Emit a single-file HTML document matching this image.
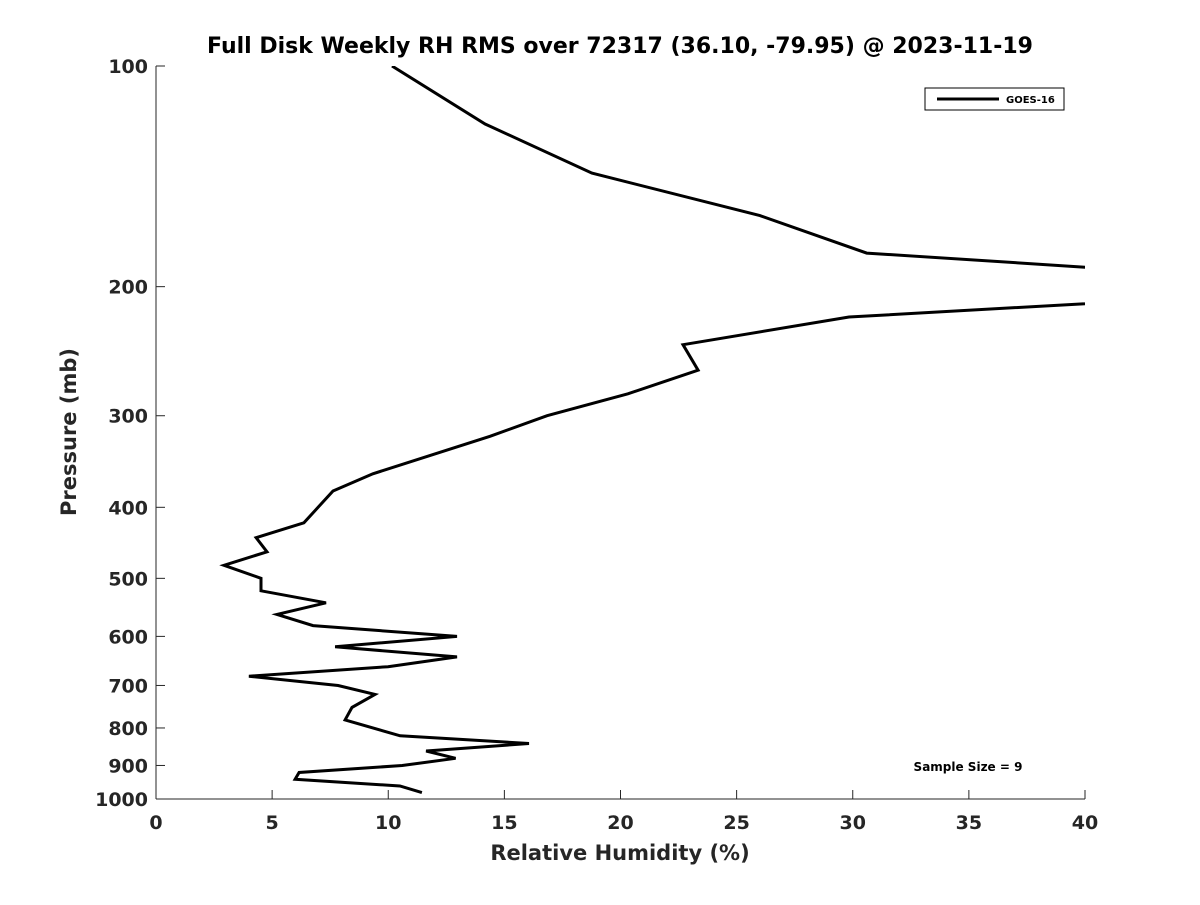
<!DOCTYPE html>
<html><head><meta charset="utf-8"><style>
body{margin:0;background:#fff;}
svg text{font-family:"DejaVu Sans","Liberation Sans",sans-serif;font-weight:bold;fill:#262626;}
</style></head><body>
<svg id="chart" width="1200" height="900" xmlns="http://www.w3.org/2000/svg">
<rect width="1200" height="900" fill="#fff"/>
<defs><clipPath id="clip"><rect x="156" y="66" width="929" height="733"/></clipPath></defs>
<text x="620" y="53" font-size="22" text-anchor="middle" style="fill:#000">Full Disk Weekly RH RMS over 72317 (36.10, -79.95) @ 2023-11-19</text>
<g id="axes"></g>
<path id="series" fill="none" stroke="#000" stroke-width="3" clip-path="url(#clip)" stroke-linejoin="miter"/>
<g>
<rect x="925" y="88" width="139" height="22" fill="#fff" stroke="#000" stroke-width="1"/>
<line x1="937" y1="99" x2="999" y2="99" stroke="#000" stroke-width="3"/>
<text x="1006" y="103" font-size="10" style="fill:#000">GOES-16</text>
</g>
<text x="968" y="771" font-size="12" text-anchor="middle" style="fill:#000">Sample Size = 9</text>
<text x="620" y="860" font-size="21" text-anchor="middle">Relative Humidity (%)</text>
<text transform="translate(76,432) rotate(-90)" font-size="21" text-anchor="middle">Pressure (mb)</text>
</svg>
<script>
const pressures=[100,120,140,160,180,200,220,240,260,280,300,320,360,380,400,420,440,460,480,500,520,540,560,580,600,620,640,660,680,700,720,750,780,820,840,860,880,900,920,940,960,980];
const rhValues=[10.16,14.17,18.77,26.0,30.6,53,29.84,22.69,23.34,20.32,16.84,14.38,9.34,7.62,6.98,6.37,4.31,4.78,2.93,4.52,4.52,7.32,5.21,6.76,12.96,7.71,12.96,9.99,4.0,7.84,9.43,8.44,8.14,10.51,16.06,11.63,12.9,10.6,6.16,5.99,10.5,11.45];
const xTicks=[0,5,10,15,20,25,30,35,40];
const yTicks=[100,200,300,400,500,600,700,800,900,1000];
const X0=156,X1=1085,Y0=66,Y1=799;
const xs=v=>X0+(v/40)*(X1-X0);
const ys=p=>Y0+(Math.log10(p)-2)*(Y1-Y0);
const NS="http://www.w3.org/2000/svg";
const axes=document.getElementById('axes');
function mk(tag,attrs){const e=document.createElementNS(NS,tag);for(const k in attrs)e.setAttribute(k,attrs[k]);axes.appendChild(e);return e;}
const xl=mk('line',{x1:X0,y1:Y1,x2:X1,y2:Y1,stroke:'#262626','stroke-width':1});


const yl=mk('line',{x1:X0,y1:Y0,x2:X0,y2:Y1,stroke:'#262626','stroke-width':1});


xTicks.forEach(t=>{const x=xs(t);
 const l=mk('line',{x1:x,y1:Y1,x2:x,y2:Y1-9,stroke:'#262626'});
 
 
 const tx=mk('text',{x:x,y:Y1+30,'font-size':19,'text-anchor':'middle'});tx.textContent=t;
 
 
});
yTicks.forEach(t=>{const y=ys(t);
 const l=mk('line',{x1:X0,y1:y,x2:X0+9,y2:y,stroke:'#262626'});
 
 
 const tx=mk('text',{x:X0-8,y:y+7,'font-size':19,'text-anchor':'end'});tx.textContent=t;
 
 
});
document.getElementById('series').setAttribute('d',pressures.map((p,i)=>(i?'L':'M')+xs(rhValues[i]).toFixed(1)+','+ys(p).toFixed(1)).join(''));
</script>
</body></html>
